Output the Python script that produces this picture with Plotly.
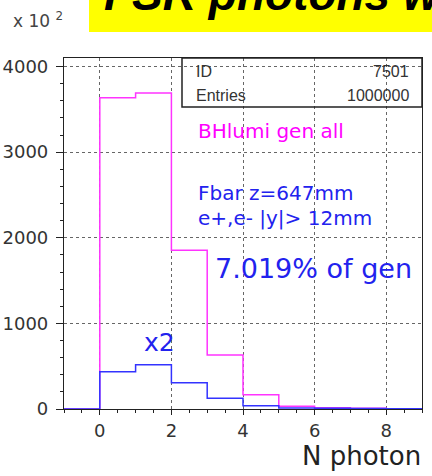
import plotly.graph_objects as go

# ---- data (counts in units of 10^2) ----
bin_edges = [-1, 0, 1, 2, 3, 4, 5, 6, 7, 8, 9]
gen_all = [0, 3635, 3690, 1855, 630, 165, 32, 15, 8, 0]
fbar_sel = [0, 435, 518, 308, 125, 38, 12, 8, 5, 3]
x_ticks = [0, 2, 4, 6, 8]
y_ticks = [0, 1000, 2000, 3000, 4000]

# ---- geometry helpers (pixel -> paper) ----
W, H = 432, 476
L, R, T, B = 64, 422, 58, 409


def px(x):
    return (x - L) / (R - L)


def py(y):
    return (B - y) / (B - T)


def step(vals):
    return list(vals) + [vals[-1]]


fig = go.Figure()
fig.add_trace(go.Scatter(x=bin_edges, y=step(gen_all), mode="lines",
                         line=dict(shape="hv", color="#ff33ff", width=1.5),
                         hoverinfo="skip", showlegend=False))
fig.add_trace(go.Scatter(x=bin_edges, y=step(fbar_sel), mode="lines",
                         line=dict(shape="hv", color="#3333ff", width=1.5),
                         hoverinfo="skip", showlegend=False))

tickfont = dict(family="DejaVu Sans", size=18, color="#333")
fig.update_xaxes(range=[-1, 9], tickvals=x_ticks, ticktext=[str(v) for v in x_ticks],
                 showgrid=True, gridcolor="#666", griddash="dot", gridwidth=1,
                 zeroline=False, showline=True, mirror=True, linecolor="#222", linewidth=1.2,
                 ticks="outside", ticklen=5, tickcolor="#222", tickfont=tickfont,
                 automargin=False,
                 minor=dict(dtick=0.5, tick0=0, ticks="outside", ticklen=3, tickcolor="#222", showgrid=False))
fig.update_yaxes(range=[0, 4100], tickvals=y_ticks, ticktext=[str(v) for v in y_ticks],
                 showgrid=True, gridcolor="#666", griddash="dot", gridwidth=1,
                 zeroline=False, showline=True, mirror=True, linecolor="#222", linewidth=1.2,
                 ticks="outside", ticklen=7, tickcolor="#222", tickfont=tickfont,
                 ticklabelstandoff=4, automargin=False,
                 minor=dict(dtick=200, tick0=0, ticks="outside", ticklen=3, tickcolor="#222", showgrid=False))

shapes = [
    # yellow title band
    dict(type="rect", xref="paper", yref="paper", x0=px(89), x1=px(445), y0=py(32), y1=py(-5),
         fillcolor="#ffff00", line=dict(width=0), layer="above"),
    # stats box
    dict(type="rect", xref="paper", yref="paper", x0=px(182), x1=px(422), y0=py(107), y1=py(58),
         fillcolor="rgba(0,0,0,0)", line=dict(color="#222", width=1.5), layer="above"),
]

blue = "#2222ee"
mag = "#ff00ff"
stat_font = dict(family="Liberation Sans", size=16, color="#333")
ann = [
    dict(text="<b><i>FSR photons with</i></b>", x=px(102), y=py(22), xanchor="left", yanchor="bottom",
         font=dict(family="Liberation Sans", size=46, color="black")),
    dict(text="x 10 <sup>2</sup>", x=px(11), y=py(20), xanchor="left", yanchor="middle",
         font=dict(family="DejaVu Sans", size=17, color="#444")),
    dict(text="ID", x=px(194), y=py(71), xanchor="left", yanchor="middle", font=stat_font),
    dict(text="Entries", x=px(194), y=py(95), xanchor="left", yanchor="middle", font=stat_font),
    dict(text="7501", x=px(411), y=py(71), xanchor="right", yanchor="middle", font=stat_font),
    dict(text="1000000", x=px(411), y=py(95), xanchor="right", yanchor="middle", font=stat_font),
    dict(text="BHlumi gen all", x=px(196), y=py(131), xanchor="left", yanchor="middle",
         font=dict(family="DejaVu Sans", size=20, color=mag)),
    dict(text="Fbar z=647mm", x=px(196), y=py(193), xanchor="left", yanchor="middle",
         font=dict(family="DejaVu Sans", size=20, color=blue)),
    dict(text="e+,e- |y|> 12mm", x=px(196), y=py(218), xanchor="left", yanchor="middle",
         font=dict(family="DejaVu Sans", size=20, color=blue)),
    dict(text="7.019% of gen", x=px(213), y=py(268), xanchor="left", yanchor="middle",
         font=dict(family="DejaVu Sans", size=27, color=blue)),
    dict(text="x2", x=px(142), y=py(342), xanchor="left", yanchor="middle",
         font=dict(family="DejaVu Sans", size=25, color=blue)),
    dict(text="N photon", x=px(423), y=py(456), xanchor="right", yanchor="middle",
         font=dict(family="DejaVu Sans", size=26, color="#222")),
]
for a in ann:
    a.update(xref="paper", yref="paper", showarrow=False)

fig.update_layout(width=W, height=H, margin=dict(l=L, r=W - R, t=T, b=H - B),
                  paper_bgcolor="white", plot_bgcolor="white",
                  shapes=shapes, annotations=ann, showlegend=False)

fig.write_html("out.html", config={"displayModeBar": False},
               post_script="document.body.style.margin='0';document.body.style.overflow='hidden';")
